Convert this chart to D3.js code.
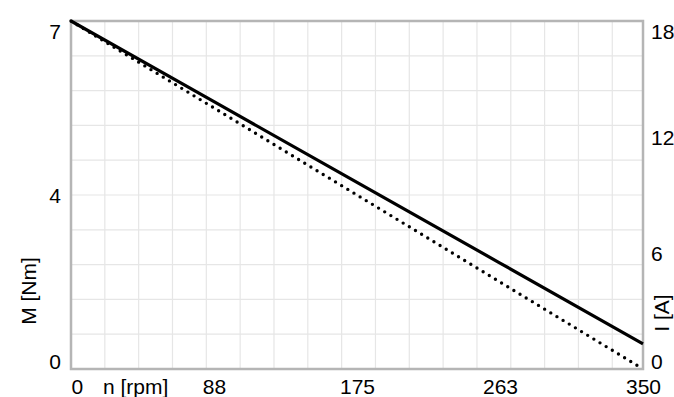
<!DOCTYPE html>
<html>
<head>
<meta charset="utf-8">
<script src="https://cdn.jsdelivr.net/npm/d3@7"></script>
<style>
  html, body { margin: 0; padding: 0; background: #fff; }
  svg { display: block; }
  text { font-family: "Liberation Sans", Arial, Helvetica, sans-serif; fill: #000; }
</style>
</head>
<body>
<svg id="chart" width="674" height="397"></svg>
<script>
// ---- data ----
const speed   = [0, 87.5, 175, 262.5, 350];        // n [rpm]
const torque  = [7, 5.25, 3.5, 1.75, 0];           // M [Nm]  (dotted)
const current = [18, 13.83, 9.65, 5.48, 1.3];      // I [A]   (solid)
const xTicks  = [0, 87.5, 175, 262.5, 350];
const mTicks  = [0, 3.5, 7];
const iTicks  = [0, 6, 12, 18];
const xGridStep = 20.7;
const yGridCount = 10;

// ---- layout ----
const W = 674, H = 397;
const m = { left: 71, right: 31, top: 21, bottom: 28 };
const pw = W - m.left - m.right, ph = H - m.top - m.bottom;

const svg = d3.select("#chart");
const g = svg.append("g").attr("transform", `translate(${m.left},${m.top})`);

const x = d3.scaleLinear().domain([0, 350]).range([0, pw]);
const yM = d3.scaleLinear().domain([0, 7]).range([ph, 0]);
const yI = d3.scaleLinear().domain([0, 18]).range([ph, 0]);
const yG = d3.scaleLinear().domain([0, yGridCount]).range([ph, 0]);

// grid
const xGrid = d3.range(xGridStep, 350, xGridStep);
g.append("g").selectAll("line").data(xGrid).join("line")
  .attr("x1", d => x(d)).attr("x2", d => x(d))
  .attr("y1", 0).attr("y2", ph)
  .attr("stroke", "#e6e6e6").attr("stroke-width", 1.2);
g.append("g").selectAll("line").data(d3.range(1, yGridCount)).join("line")
  .attr("x1", 0).attr("x2", pw)
  .attr("y1", d => yG(d)).attr("y2", d => yG(d))
  .attr("stroke", "#e6e6e6").attr("stroke-width", 1.2);

// frame
g.append("rect").attr("x", 0).attr("y", 0).attr("width", pw).attr("height", ph)
  .attr("fill", "none").attr("stroke", "#b5b5b5").attr("stroke-width", 2.5);

const fmt = d3.format(".0f");
const fs = 21;

// left axis
const la = g.append("g").call(d3.axisLeft(yM).tickValues(mTicks).tickSize(0).tickPadding(10).tickFormat(fmt));
la.select(".domain").remove();
la.selectAll("text").attr("font-size", fs).attr("fill", "#000")
  .attr("dy", d => d === 7 ? "0.85em" : d === 0 ? "-0.02em" : "0.35em");

// right axis
const ra = g.append("g").attr("transform", `translate(${pw},0)`)
  .call(d3.axisRight(yI).tickValues(iTicks).tickSize(0).tickPadding(8).tickFormat(fmt));
ra.select(".domain").remove();
ra.selectAll("text").attr("font-size", fs).attr("fill", "#000")
  .attr("dy", d => d === 18 ? "0.85em" : d === 0 ? "-0.02em" : "0.35em");

// bottom axis
const ba = g.append("g").attr("transform", `translate(0,${ph})`)
  .call(d3.axisBottom(x).tickValues(xTicks).tickSize(0).tickPadding(10).tickFormat(fmt));
ba.select(".domain").remove();
ba.selectAll("text").attr("font-size", fs).attr("fill", "#000")
  .attr("text-anchor", d => d === 0 ? "start" : "middle");

// axis titles
svg.append("text").attr("x", 103).attr("y", 394).attr("font-size", fs).text("n [rpm]");
svg.append("text").attr("transform", "translate(36,291) rotate(-90)")
  .attr("text-anchor", "middle").attr("font-size", fs).text("M [Nm]");
svg.append("text").attr("transform", "translate(669,313) rotate(-90)")
  .attr("text-anchor", "middle").attr("font-size", fs).text("I [A]");

// lines
const lineI = d3.line().x((d, i) => x(speed[i])).y(d => yI(d));
const lineM = d3.line().x((d, i) => x(speed[i])).y(d => yM(d));
g.append("path").datum(current).attr("d", lineI)
  .attr("fill", "none").attr("stroke", "#000").attr("stroke-width", 3.2);
g.append("path").datum(torque).attr("d", lineM)
  .attr("fill", "none").attr("stroke", "#000").attr("stroke-width", 3.4)
  .attr("stroke-linecap", "round").attr("stroke-dasharray", "0 7.2");
</script>
</body>
</html>
